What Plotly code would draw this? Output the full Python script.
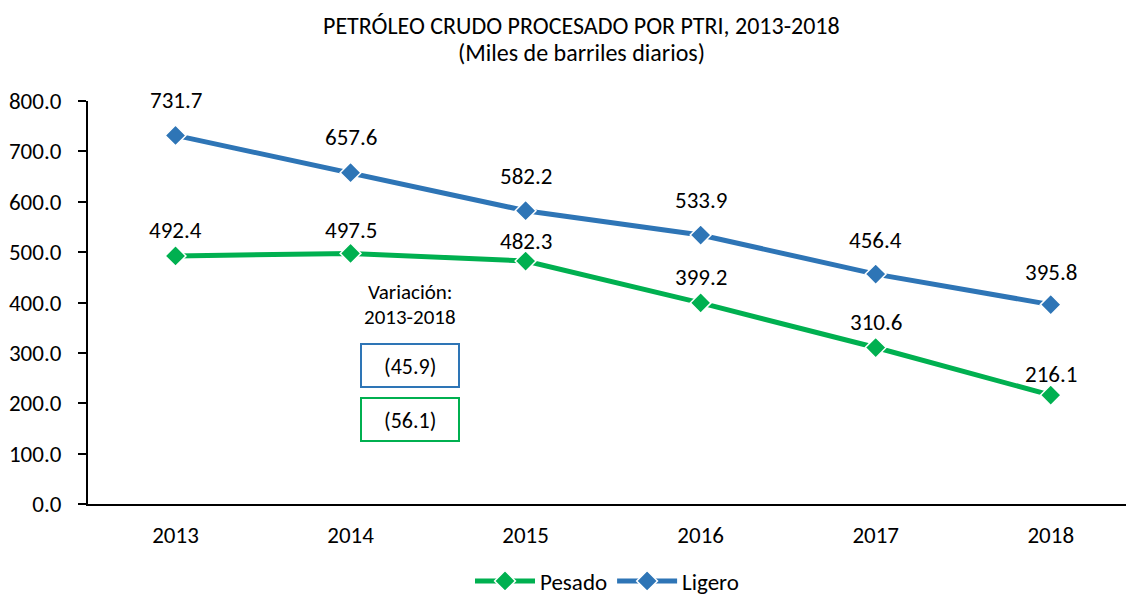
import plotly.graph_objects as go

years = ["2013", "2014", "2015", "2016", "2017", "2018"]
pesado = [492.4, 497.5, 482.3, 399.2, 310.6, 216.1]
ligero = [731.7, 657.6, 582.2, 533.9, 456.4, 395.8]
var_ligero = "(45.9)"
var_pesado = "(56.1)"
y_ticks = [0, 100, 200, 300, 400, 500, 600, 700, 800]

BLUE = "#2E75B6"
GREEN = "#00B050"
FONT = "Carlito, Calibri, Lato, sans-serif"

pesado_shift = [26, 23, 20, 26, 26, 21]
ligero_shift = [35, 36, 35, 35, 34, 33]

fig = go.Figure()
fig.add_trace(go.Scatter(
    x=years, y=pesado, name="Pesado", mode="lines+markers",
    line=dict(color=GREEN, width=5),
    marker=dict(symbol="diamond", size=16, color=GREEN, line=dict(color="white", width=1.5)),
))
fig.add_trace(go.Scatter(
    x=years, y=ligero, name="Ligero", mode="lines+markers",
    line=dict(color=BLUE, width=5),
    marker=dict(symbol="diamond", size=16, color=BLUE, line=dict(color="white", width=1.5)),
))

annotations = []
for i, (v, s) in enumerate(zip(pesado, pesado_shift)):
    annotations.append(dict(x=i, y=v, xref="x", yref="y", text=f"{v:.1f}", showarrow=False,
                            xanchor="center", yanchor="middle", yshift=s,
                            font=dict(size=23, color="#000", family=FONT)))
for i, (v, s) in enumerate(zip(ligero, ligero_shift)):
    annotations.append(dict(x=i, y=v, xref="x", yref="y", text=f"{v:.1f}", showarrow=False,
                            xanchor="center", yanchor="middle", yshift=s,
                            font=dict(size=23, color="#000", family=FONT)))

H = 612
L, R, T, B = 88, 1126, 101, 504
def px(xp):
    return (xp - L) / (R - L)
def py(yp):
    return (B - yp) / (B - T)

# Title (two lines)
annotations.append(dict(x=px(581), y=py(26), xref="paper", yref="paper", showarrow=False,
                        xanchor="center", yanchor="middle",
                        text="PETRÓLEO CRUDO PROCESADO POR PTRI, 2013-2018",
                        font=dict(size=24, color="#000", family=FONT)))
annotations.append(dict(x=px(581), y=py(52), xref="paper", yref="paper", showarrow=False,
                        xanchor="center", yanchor="middle",
                        text="(Miles de barriles diarios)",
                        font=dict(size=24, color="#000", family=FONT)))

annotations.append(dict(x=px(410), y=py(292), xref="paper", yref="paper", showarrow=False,
                        xanchor="center", yanchor="middle",
                        text="Variación:", font=dict(size=21, color="#000", family=FONT)))
annotations.append(dict(x=px(410), y=py(317), xref="paper", yref="paper", showarrow=False,
                        xanchor="center", yanchor="middle",
                        text="2013-2018", font=dict(size=21, color="#000", family=FONT)))
annotations.append(dict(x=px(410), y=py(366), xref="paper", yref="paper", showarrow=False,
                        xanchor="center", yanchor="middle",
                        text=var_ligero, font=dict(size=22, color="#000", family=FONT)))
annotations.append(dict(x=px(410), y=py(420), xref="paper", yref="paper", showarrow=False,
                        xanchor="center", yanchor="middle",
                        text=var_pesado, font=dict(size=22, color="#000", family=FONT)))

shapes = [
    dict(type="rect", xref="paper", yref="paper", x0=px(361), x1=px(459), y0=py(387), y1=py(344),
         line=dict(color=BLUE, width=2), fillcolor="white", layer="below"),
    dict(type="rect", xref="paper", yref="paper", x0=px(361), x1=px(459), y0=py(441), y1=py(398),
         line=dict(color=GREEN, width=2), fillcolor="white", layer="below"),
]

fig.update_layout(
    width=1126, height=H,
    margin=dict(l=L, r=0, t=T, b=H - B),
    paper_bgcolor="white", plot_bgcolor="white",
    font=dict(family=FONT, color="#000"),
    xaxis=dict(type="category", range=[-0.5, 5.43], showline=True, linecolor="#000", linewidth=2,
               ticks="", showgrid=False, tickfont=dict(size=23), ticklabelstandoff=9),
    yaxis=dict(range=[0, 800], tickvals=y_ticks, ticktext=[f"{v:.1f}" for v in y_ticks],
               showline=True, linecolor="#000", linewidth=2, ticks="outside", ticklen=8,
               tickwidth=2, tickcolor="#000", showgrid=False, zeroline=False,
               tickfont=dict(size=23), ticklabelstandoff=12),
    showlegend=True,
    legend=dict(orientation="h", x=px(607), xanchor="center", y=py(581), yanchor="middle",
                font=dict(size=23), itemwidth=60),
    annotations=annotations,
    shapes=shapes,
)

fig.write_html("out.html", config={"displayModeBar": False},
               post_script="document.body.style.margin='0';document.body.style.overflow='hidden';")
